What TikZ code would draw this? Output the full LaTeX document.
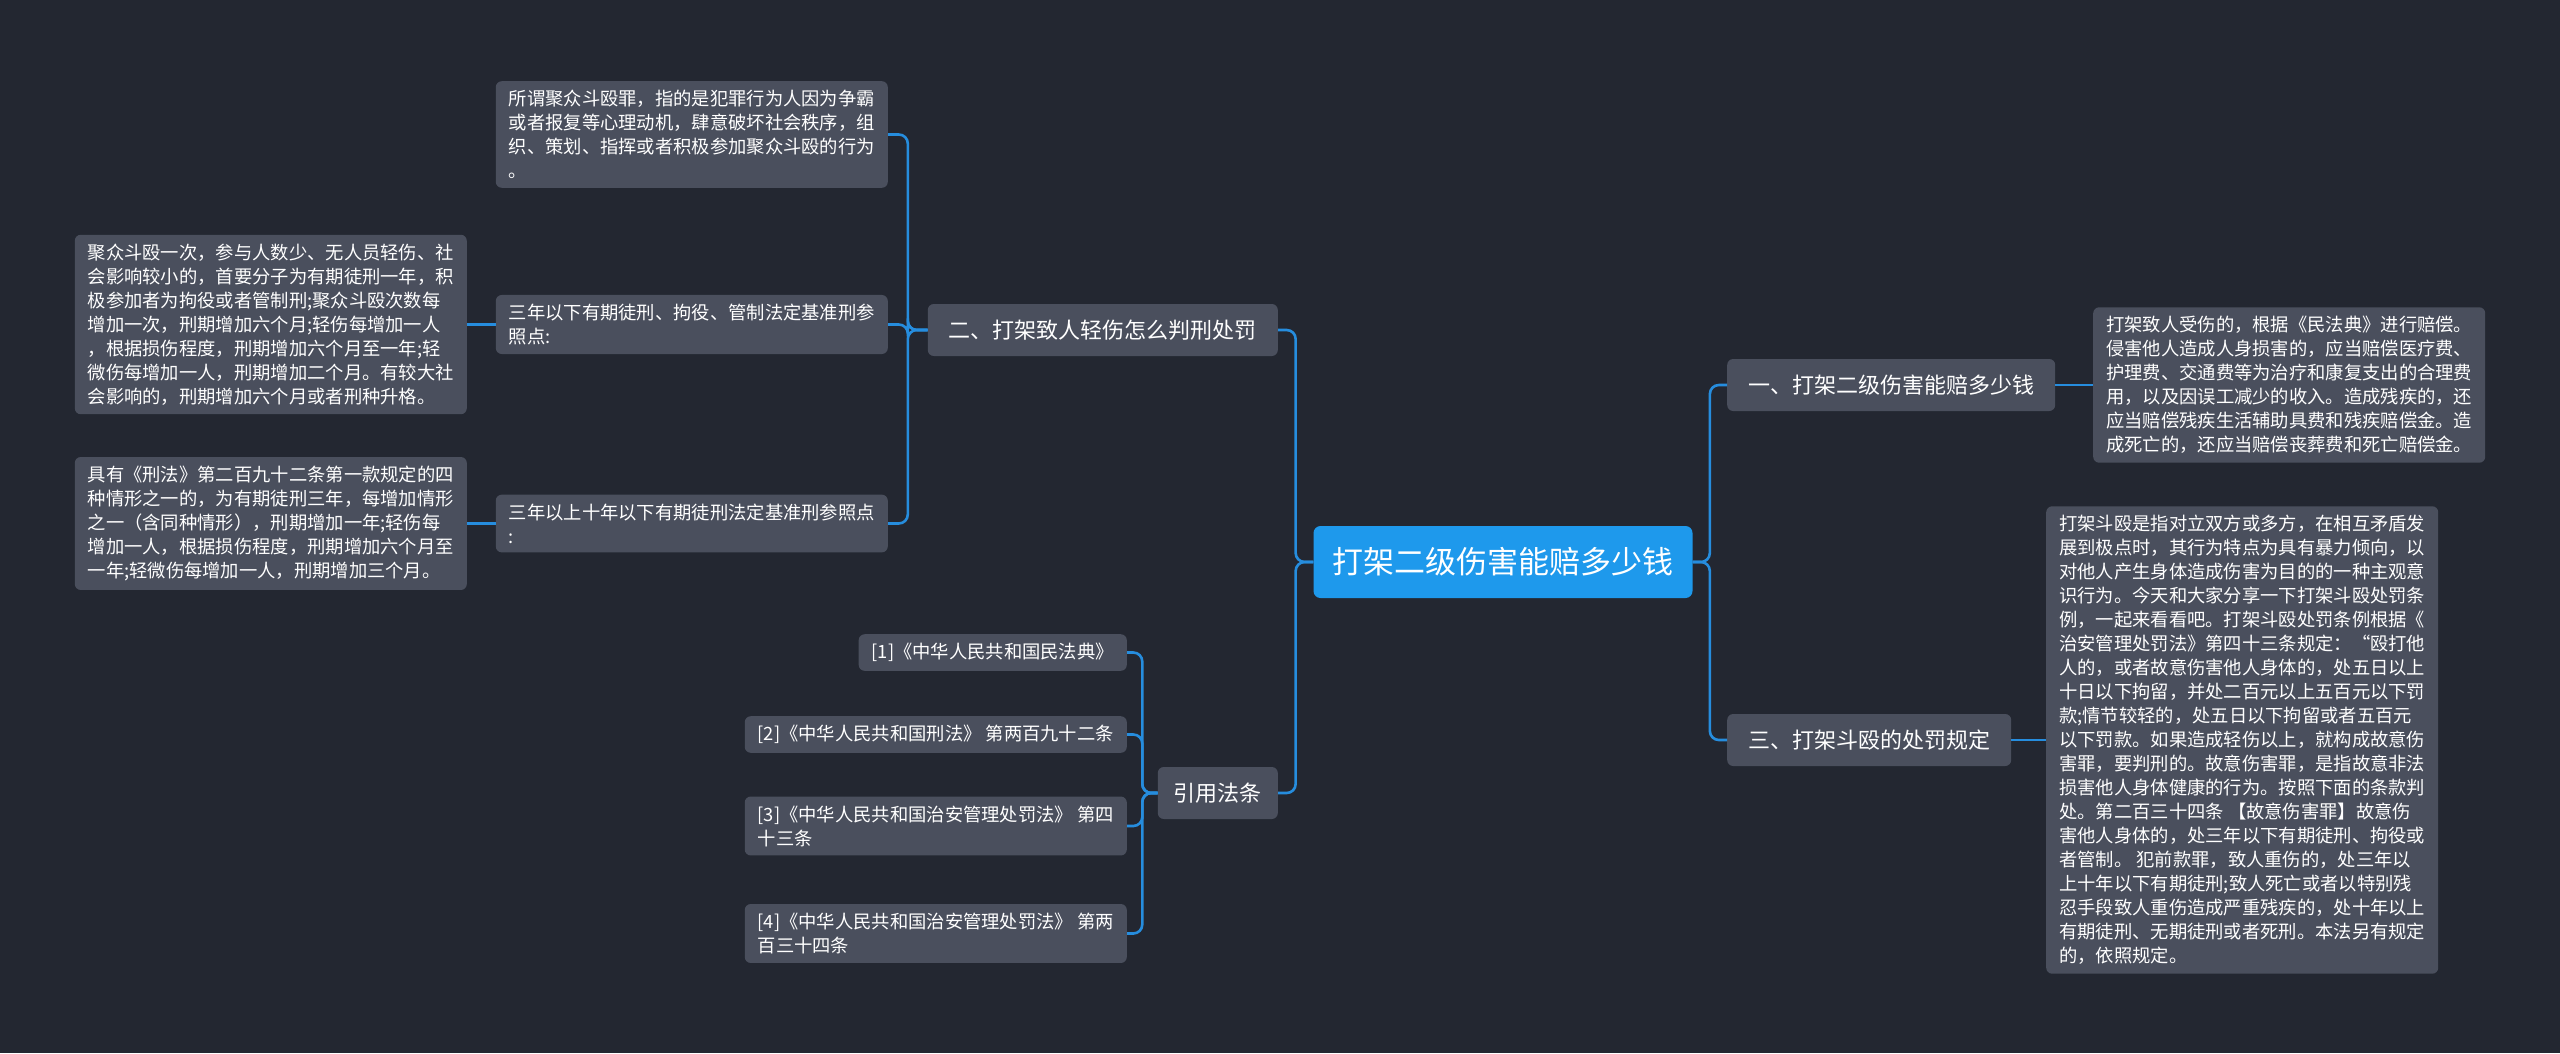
\documentclass[tikz,border=0pt]{standalone}
\usepackage{fontspec}
\setmainfont{Noto Sans CJK SC}
\usepackage{xcolor}
\usetikzlibrary{calc}

\definecolor{bgcol}{RGB}{35,39,49}
\definecolor{boxgray}{RGB}{74,79,93}
\definecolor{rootblue}{RGB}{30,153,236}
\definecolor{linkblue}{RGB}{38,141,222}

\tikzset{
  rootbox/.style={fill=rootblue, text=white, rounded corners=7bp, minimum width=379bp, minimum height=72bp, font=\fontsize{31bp}{36bp}\selectfont},
  topicbox/.style={fill=boxgray, text=white, rounded corners=6bp, inner xsep=21bp, minimum height=52bp, font=\fontsize{22bp}{26bp}\selectfont},
  notebox/.style={fill=boxgray, text=white, rounded corners=6bp, align=left, inner xsep=13bp, inner ysep=9bp, font=\fontsize{18.3bp}{24bp}\selectfont},
  link/.style={draw=linkblue, line width=2.6bp, rounded corners=9bp},
}

\begin{document}
\begin{tikzpicture}[x=1bp, y=-1bp]
\fill[bgcol] (0,0) rectangle (2560,1053);
\useasboundingbox (0,0) rectangle (2560,1053);

\node [rootbox] (root) at (1503,562) {打架二级伤害能赔多少钱};

% right side
\node [topicbox, anchor=west] (n1) at (1727,385) {一、打架二级伤害能赔多少钱};
\node [topicbox, anchor=west] (n3) at (1727,740) {三、打架斗殴的处罚规定};
\node [notebox, anchor=west] (n1d) at (2093,385) {%
打架致人受伤的，根据《民法典》进行赔偿。\\
侵害他人造成人身损害的，应当赔偿医疗费、\\
护理费、交通费等为治疗和康复支出的合理费\\
用，以及因误工减少的收入。造成残疾的，还\\
应当赔偿残疾生活辅助具费和残疾赔偿金。造\\
成死亡的，还应当赔偿丧葬费和死亡赔偿金。};
\node [notebox, anchor=west] (n3d) at (2046,740) {%
打架斗殴是指对立双方或多方，在相互矛盾发\\
展到极点时，其行为特点为具有暴力倾向，以\\
对他人产生身体造成伤害为目的的一种主观意\\
识行为。今天和大家分享一下打架斗殴处罚条\\
例，一起来看看吧。打架斗殴处罚条例根据《\\
治安管理处罚法》第四十三条规定：“殴打他\\
人的，或者故意伤害他人身体的，处五日以上\\
十日以下拘留，并处二百元以上五百元以下罚\\
款;情节较轻的，处五日以下拘留或者五百元\\
以下罚款。如果造成轻伤以上，就构成故意伤\\
害罪，要判刑的。故意伤害罪，是指故意非法\\
损害他人身体健康的行为。按照下面的条款判\\
处。第二百三十四条 【故意伤害罪】故意伤\\
害他人身体的，处三年以下有期徒刑、拘役或\\
者管制。 犯前款罪，致人重伤的，处三年以\\
上十年以下有期徒刑;致人死亡或者以特别残\\
忍手段致人重伤造成严重残疾的，处十年以上\\
有期徒刑、无期徒刑或者死刑。本法另有规定\\
的，依照规定。};

% left side
\node [topicbox, anchor=east] (n2) at (1278,330) {二、打架致人轻伤怎么判刑处罚};
\node [topicbox, anchor=east, inner xsep=16bp] (n4) at (1278,793) {引用法条};

\node [notebox, anchor=east] (n2a) at (888,134.5) {%
所谓聚众斗殴罪，指的是犯罪行为人因为争霸\\
或者报复等心理动机，肆意破坏社会秩序，组\\
织、策划、指挥或者积极参加聚众斗殴的行为\\
。};
\node [notebox, anchor=east] (n2b) at (888,324.5) {%
三年以下有期徒刑、拘役、管制法定基准刑参\\
照点:};
\node [notebox, anchor=east] (n2c) at (888,523.5) {%
三年以上十年以下有期徒刑法定基准刑参照点\\
:};
\node [notebox, anchor=east] (n2b1) at (467,324.5) {%
聚众斗殴一次，参与人数少、无人员轻伤、社\\
会影响较小的，首要分子为有期徒刑一年，积\\
极参加者为拘役或者管制刑;聚众斗殴次数每\\
增加一次，刑期增加六个月;轻伤每增加一人\\
，根据损伤程度，刑期增加六个月至一年;轻\\
微伤每增加一人，刑期增加二个月。有较大社\\
会影响的，刑期增加六个月或者刑种升格。};
\node [notebox, anchor=east] (n2c1) at (467,523.5) {%
具有《刑法》第二百九十二条第一款规定的四\\
种情形之一的，为有期徒刑三年，每增加情形\\
之一（含同种情形），刑期增加一年;轻伤每\\
增加一人，根据损伤程度，刑期增加六个月至\\
一年;轻微伤每增加一人，刑期增加三个月。};

\node [notebox, anchor=east] (r1) at (1127,652.5) {[1]《中华人民共和国民法典》};
\node [notebox, anchor=east] (r2) at (1127,734.5) {[2]《中华人民共和国刑法》 第两百九十二条};
\node [notebox, anchor=east] (r3) at (1127,826) {[3]《中华人民共和国治安管理处罚法》 第四\\十三条};
\node [notebox, anchor=east] (r4) at (1127,933.5) {[4]《中华人民共和国治安管理处罚法》 第两\\百三十四条};

% connectors
\foreach \p/\c in {root/n2, root/n4, n2/n2a, n2/n2b, n2/n2c, n4/r1, n4/r2, n4/r3, n4/r4}
  \draw[link] (\p.west) -| ($(\p.west)!.5!(\c.east)$) |- (\c.east);
\foreach \p/\c in {root/n1, root/n3}
  \draw[link] (\p.east) -| ($(\p.east)!.5!(\c.west)$) |- (\c.west);
\foreach \p/\c in {n1/n1d, n3/n3d}
  \draw[link] (\p.east) -- (\c.west);
\foreach \p/\c in {n2b/n2b1, n2c/n2c1}
  \draw[link] (\p.west) -- (\c.east);
\end{tikzpicture}
\end{document}
